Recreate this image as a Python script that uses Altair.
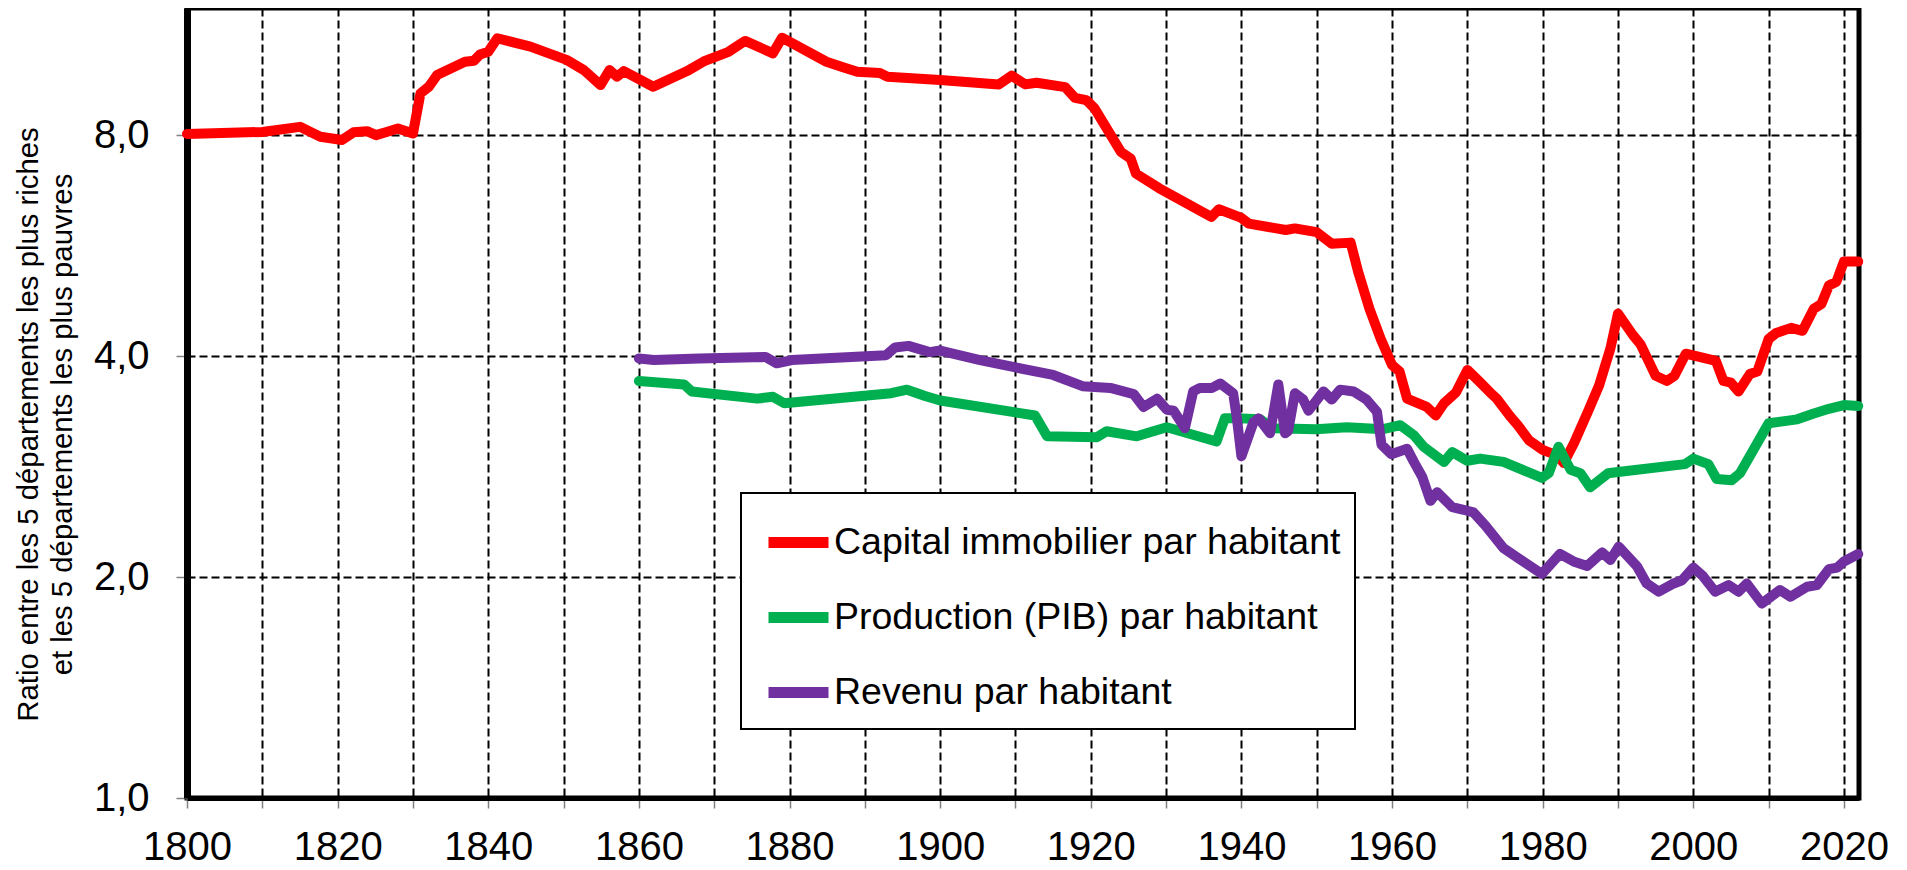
import altair as alt
import pandas as pd

# ---- data ----
names = ["Capital immobilier par habitant", "Production (PIB) par habitant", "Revenu par habitant"]
colors = ["#FF0000", "#00B050", "#7030A0"]

red_years = [1800, 1810, 1815, 1817.7, 1820.6, 1822.1, 1823.9, 1825.1, 1826.5, 1828, 1830,
             1831, 1832.1, 1833.2, 1836.9, 1838.1, 1838.9, 1840, 1841.2, 1845.6, 1850.4,
             1852.7, 1854.9, 1856.1, 1857.1, 1858, 1861.9, 1866.4, 1868.6, 1871.9, 1874.1,
             1877.8, 1879, 1884.9, 1887.2, 1889, 1892, 1893, 1900, 1907.8, 1909.5, 1911.3,
             1912.8, 1916.6, 1917.9, 1919.4, 1920.5, 1924, 1925.3, 1926, 1929.1, 1936, 1937,
             1940, 1941, 1945.9, 1947.1, 1950, 1952, 1954.5, 1955.5, 1957, 1958.5, 1960, 1961,
             1962, 1964.6, 1965.8, 1966.9, 1968.5, 1970, 1971.5, 1973, 1973.9, 1975.7, 1976.7,
             1978.2, 1980, 1981.9, 1982.8, 1984.2, 1986, 1987.5, 1989, 1990, 1992, 1993, 1995,
             1996.5, 1997.5, 1999, 2003, 2004, 2005, 2006, 2007.5, 2008.5, 2010, 2011, 2013,
             2014.5, 2016, 2017, 2018, 2019, 2020, 2021.9]
red_vals = [8.03, 8.08, 8.21, 7.96, 7.88, 8.07, 8.10, 8.00, 8.08, 8.17, 8.04,
            9.12, 9.31, 9.66, 10.07, 10.10, 10.30, 10.39, 10.84, 10.56, 10.13,
            9.81, 9.36, 9.81, 9.61, 9.78, 9.31, 9.78, 10.08, 10.39, 10.75,
            10.34, 10.86, 10.07, 9.89, 9.76, 9.72, 9.61, 9.51, 9.38, 9.64, 9.38,
            9.43, 9.30, 8.99, 8.93, 8.70, 7.59, 7.43, 7.09, 6.77, 6.19, 6.34,
            6.17, 6.06, 5.94, 5.97, 5.90, 5.69, 5.71, 5.21, 4.64, 4.22, 3.89, 3.81,
            3.50, 3.41, 3.32, 3.45, 3.57, 3.83, 3.70, 3.57, 3.50, 3.31, 3.22,
            3.07, 2.98, 2.93, 2.86, 3.05, 3.36, 3.65, 4.10, 4.57, 4.27, 4.15, 3.76,
            3.70, 3.76, 4.03, 3.94, 3.70, 3.68, 3.58, 3.78, 3.81, 4.22, 4.30, 4.37,
            4.33, 4.64, 4.71, 4.99, 5.05, 5.38, 5.38]

green_years = [1860, 1866, 1867, 1875.7, 1877.8, 1879.3, 1893.5, 1895.6, 1898, 1900, 1912.6,
               1914.2, 1920.8, 1922.1, 1926.1, 1928.3, 1930.1, 1936.7, 1937.8, 1940, 1942.5,
               1944.2, 1949.9, 1954, 1958.8, 1961.1, 1962.9, 1964.2, 1966.9, 1968, 1970,
               1971.7, 1974.8, 1979.9, 1980.8, 1982.1, 1983.7, 1985, 1986.3, 1988.7, 1990,
               1998.9, 2000, 2002, 2003.1, 2005.1, 2006.2, 2010, 2013.8, 2016, 2018, 2020, 2021.9]
green_vals = [3.70, 3.66, 3.58, 3.50, 3.52, 3.45, 3.56, 3.60, 3.53, 3.48, 3.32,
              3.11, 3.10, 3.16, 3.11, 3.16, 3.20, 3.06, 3.29, 3.29, 3.28,
              3.19, 3.18, 3.20, 3.18, 3.22, 3.12, 3.01, 2.87, 2.96, 2.88,
              2.90, 2.87, 2.73, 2.77, 3.01, 2.80, 2.77, 2.65, 2.77, 2.78,
              2.85, 2.90, 2.85, 2.72, 2.71, 2.77, 3.24, 3.28, 3.34, 3.39, 3.43, 3.42]

purple_years = [1860, 1862, 1868, 1876.8, 1878.3, 1880.3, 1892.8, 1894, 1895.8, 1898.6, 1900,
                1905.3, 1910, 1915, 1918.9, 1922.6, 1925.7, 1927, 1928.8, 1930.1, 1931, 1932.5,
                1933.6, 1934.5, 1936.1, 1937.2, 1938.9, 1939.4, 1940, 1941.6, 1942.3, 1943.8,
                1944.9, 1945.8, 1946.2, 1947.1, 1948.2, 1948.9, 1950.9, 1952, 1953.1, 1954.9,
                1956.6, 1958, 1958.6, 1959.9, 1962, 1962.9, 1964, 1965.1, 1966, 1968, 1969.5,
                1970.8, 1972.4, 1974.8, 1976.8, 1979.9, 1982.3, 1984.1, 1985.9, 1987.9, 1989,
                1990.1, 1992.5, 1993.8, 1995.4, 1997.4, 1998.5, 2000, 2001.2, 2002.9, 2004.7,
                2006, 2007.1, 2009.1, 2011.5, 2012.9, 2015.1, 2016.4, 2018, 2019.1, 2020, 2021.9]
purple_vals = [3.97, 3.95, 3.97, 3.99, 3.91, 3.95, 4.01, 4.11, 4.13, 4.05, 4.07,
               3.95, 3.86, 3.77, 3.64, 3.62, 3.55, 3.41, 3.50, 3.38, 3.37, 3.19,
               3.58, 3.62, 3.62, 3.67, 3.56, 3.29, 2.92, 3.25, 3.29, 3.14,
               3.66, 3.14, 3.16, 3.56, 3.49, 3.37, 3.58, 3.49, 3.60, 3.58,
               3.49, 3.36, 3.03, 2.94, 2.99, 2.87, 2.74, 2.54, 2.61, 2.49, 2.47,
               2.45, 2.35, 2.19, 2.12, 2.02, 2.15, 2.10, 2.07, 2.16, 2.11,
               2.20, 2.07, 1.96, 1.91, 1.96, 1.98, 2.06, 2.01, 1.91, 1.95,
               1.91, 1.96, 1.84, 1.92, 1.88, 1.94, 1.95, 2.05, 2.06, 2.10, 2.15]

x_ticks = list(range(1800, 2030, 10))
y_ticks = [1, 2, 4, 8]
y_title = ["Ratio entre les 5 départements les plus riches",
           "et les 5 départements les plus pauvres"]

rows = []
for name, ys, vs in zip(names, [red_years, green_years, purple_years],
                        [red_vals, green_vals, purple_vals]):
    for yr, v in zip(ys, vs):
        rows.append({"serie": name, "annee": yr, "ratio": v})
df = pd.DataFrame(rows)

FONT = "Liberation Sans"

chart = alt.Chart(df).mark_line(
    strokeWidth=10, strokeCap="round", strokeJoin="round"
).encode(
    x=alt.X("annee:Q",
            scale=alt.Scale(domain=[1800, 2022], nice=False, zero=False),
            axis=alt.Axis(values=x_ticks,
                          labelExpr="datum.value % 20 == 0 ? toString(datum.value) : ''",
                          title=None, grid=True, gridDash=[8, 4], gridColor="black",
                          gridWidth=2, gridOpacity=1, tickSize=10, tickColor="#808080",
                          tickWidth=1.5, labelFontSize=40, labelFont=FONT, labelColor="black",
                          labelPadding=19, domainWidth=5, domainColor="black",
                          labelOverlap=False, labelFlush=False)),
    y=alt.Y("ratio:Q",
            scale=alt.Scale(type="log", base=2, domain=[1, 11.92], nice=False),
            axis=alt.Axis(values=y_ticks,
                          labelExpr="replace(format(datum.value, '.1f'), '.', ',')",
                          title=y_title, titleFont=FONT, titleFontSize=29.3,
                          titleFontWeight="normal", titleColor="black",
                          titleAngle=270, titleAlign="center", titleBaseline="top",
                          titleX=-173, titleY=416, titleLineHeight=34,
                          grid=True, gridDash=[8, 4], gridColor="black", gridWidth=2,
                          gridOpacity=1, tickSize=11, tickColor="#808080", tickWidth=1.5,
                          labelFontSize=40, labelFont=FONT, labelColor="black",
                          labelPadding=27, domainWidth=7, domainColor="black")),
    color=alt.Color("serie:N",
                    scale=alt.Scale(domain=names, range=colors),
                    legend=alt.Legend(title=None, orient="none", legendX=554, legendY=485,
                                      direction="vertical", symbolType="stroke",
                                      symbolSize=3600, symbolStrokeWidth=11,
                                      labelFontSize=37.5, labelFont=FONT, labelColor="black",
                                      labelExpr="datum.label + '\u00a0\u00a0'",
                                      labelLimit=900, strokeColor="black", fillColor="white",
                                      padding=14, rowPadding=17, symbolOffset=8,
                                      labelOffset=0, cornerRadius=0)),
).properties(
    width=1672, height=790,
    autosize=alt.AutoSizeParams(type="none"),
    padding={"left": 179, "top": 0, "right": 32, "bottom": 71},
).configure_view(
    stroke="black", strokeWidth=5
).configure_legend(
    strokeWidth=2
)

chart.save("out.html", embed_options={"renderer": "svg", "actions": False})
